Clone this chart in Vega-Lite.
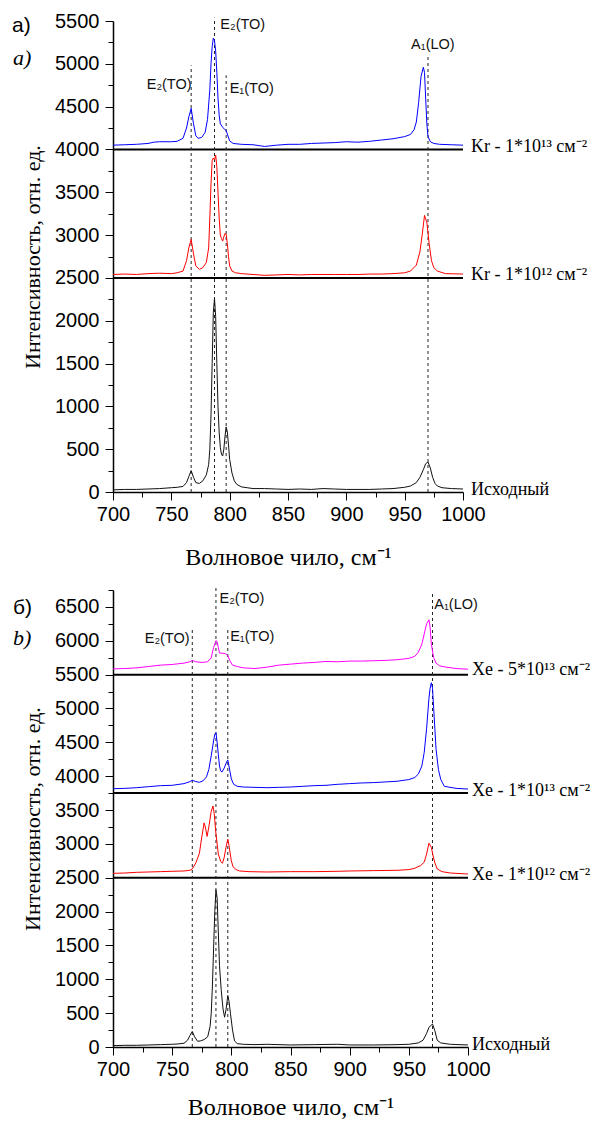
{
  "$schema": "https://vega.github.io/schema/vega-lite/v6.json",
  "padding": {"left": 12, "top": 11, "right": 0, "bottom": 0},
  "bounds": "flush",
  "spacing": 98,
  "config": {
    "view": {"stroke": null},
    "axis": {
      "grid": false,
      "domainColor": "#000",
      "domainWidth": 1.5,
      "tickColor": "#000",
      "tickWidth": 1,
      "labelColor": "#000",
      "labelFont": "Liberation Sans",
      "labelFontSize": 20,
      "labelOverlap": false,
      "labelFlush": false,
      "format": "d",
      "titleFont": "Liberation Serif",
      "titleFontSize": 22,
      "titleFontWeight": "normal",
      "titleColor": "#000"
    }
  },
  "resolve": {"scale": {"color": "independent"}},
  "datasets": {
    "a_spec": [
      {"x":700,"y":25,"s":"Исходный"},{"x":710,"y":30,"s":"Исходный"},{"x":720,"y":30,"s":"Исходный"},{"x":730,"y":35,"s":"Исходный"},{"x":740,"y":40,"s":"Исходный"},{"x":750,"y":50,"s":"Исходный"},{"x":755,"y":55,"s":"Исходный"},{"x":760,"y":65,"s":"Исходный"},{"x":763,"y":110,"s":"Исходный"},{"x":765,"y":180,"s":"Исходный"},{"x":767,"y":250,"s":"Исходный"},{"x":769,"y":170,"s":"Исходный"},{"x":771,"y":110,"s":"Исходный"},{"x":774,"y":100,"s":"Исходный"},{"x":777,"y":130,"s":"Исходный"},{"x":780,"y":200,"s":"Исходный"},{"x":782,"y":320,"s":"Исходный"},{"x":783,"y":500,"s":"Исходный"},{"x":784,"y":900,"s":"Исходный"},{"x":785,"y":1500,"s":"Исходный"},{"x":786,"y":2100,"s":"Исходный"},{"x":787,"y":2260,"s":"Исходный"},{"x":788,"y":2050,"s":"Исходный"},{"x":789,"y":1500,"s":"Исходный"},{"x":790,"y":1000,"s":"Исходный"},{"x":791,"y":700,"s":"Исходный"},{"x":792,"y":520,"s":"Исходный"},{"x":793,"y":440,"s":"Исходный"},{"x":794,"y":420,"s":"Исходный"},{"x":795,"y":500,"s":"Исходный"},{"x":796,"y":650,"s":"Исходный"},{"x":797,"y":760,"s":"Исходный"},{"x":798,"y":700,"s":"Исходный"},{"x":799,"y":550,"s":"Исходный"},{"x":800,"y":380,"s":"Исходный"},{"x":802,"y":220,"s":"Исходный"},{"x":804,"y":130,"s":"Исходный"},{"x":806,"y":90,"s":"Исходный"},{"x":810,"y":60,"s":"Исходный"},{"x":815,"y":50,"s":"Исходный"},{"x":820,"y":40,"s":"Исходный"},{"x":830,"y":40,"s":"Исходный"},{"x":840,"y":35,"s":"Исходный"},{"x":850,"y":30,"s":"Исходный"},{"x":860,"y":35,"s":"Исходный"},{"x":870,"y":30,"s":"Исходный"},{"x":880,"y":40,"s":"Исходный"},{"x":890,"y":35,"s":"Исходный"},{"x":900,"y":30,"s":"Исходный"},{"x":910,"y":30,"s":"Исходный"},{"x":920,"y":30,"s":"Исходный"},{"x":930,"y":35,"s":"Исходный"},{"x":940,"y":40,"s":"Исходный"},{"x":950,"y":55,"s":"Исходный"},{"x":955,"y":70,"s":"Исходный"},{"x":960,"y":110,"s":"Исходный"},{"x":963,"y":170,"s":"Исходный"},{"x":966,"y":260,"s":"Исходный"},{"x":968,"y":330,"s":"Исходный"},{"x":970,"y":350,"s":"Исходный"},{"x":972,"y":280,"s":"Исходный"},{"x":974,"y":170,"s":"Исходный"},{"x":976,"y":100,"s":"Исходный"},{"x":978,"y":70,"s":"Исходный"},{"x":982,"y":50,"s":"Исходный"},{"x":990,"y":40,"s":"Исходный"},{"x":1000,"y":35,"s":"Исходный"},

      {"x":700,"y":2540,"s":"Kr12"},{"x":710,"y":2545,"s":"Kr12"},{"x":720,"y":2540,"s":"Kr12"},{"x":730,"y":2550,"s":"Kr12"},{"x":740,"y":2555,"s":"Kr12"},{"x":750,"y":2550,"s":"Kr12"},{"x":755,"y":2560,"s":"Kr12"},{"x":760,"y":2580,"s":"Kr12"},{"x":763,"y":2700,"s":"Kr12"},{"x":765,"y":2850,"s":"Kr12"},{"x":767,"y":2950,"s":"Kr12"},{"x":769,"y":2780,"s":"Kr12"},{"x":771,"y":2640,"s":"Kr12"},{"x":774,"y":2600,"s":"Kr12"},{"x":777,"y":2620,"s":"Kr12"},{"x":780,"y":2680,"s":"Kr12"},{"x":782,"y":2850,"s":"Kr12"},{"x":783,"y":3200,"s":"Kr12"},{"x":784,"y":3600,"s":"Kr12"},{"x":785,"y":3870,"s":"Kr12"},{"x":786,"y":3900,"s":"Kr12"},{"x":787,"y":3880,"s":"Kr12"},{"x":788,"y":3935,"s":"Kr12"},{"x":789,"y":3800,"s":"Kr12"},{"x":790,"y":3500,"s":"Kr12"},{"x":791,"y":3200,"s":"Kr12"},{"x":792,"y":3000,"s":"Kr12"},{"x":793,"y":2960,"s":"Kr12"},{"x":794,"y":2930,"s":"Kr12"},{"x":795,"y":2980,"s":"Kr12"},{"x":796,"y":3020,"s":"Kr12"},{"x":797,"y":3010,"s":"Kr12"},{"x":798,"y":2900,"s":"Kr12"},{"x":799,"y":2750,"s":"Kr12"},{"x":800,"y":2640,"s":"Kr12"},{"x":802,"y":2580,"s":"Kr12"},{"x":805,"y":2560,"s":"Kr12"},{"x":810,"y":2550,"s":"Kr12"},{"x":820,"y":2540,"s":"Kr12"},{"x":830,"y":2530,"s":"Kr12"},{"x":840,"y":2535,"s":"Kr12"},{"x":850,"y":2540,"s":"Kr12"},{"x":860,"y":2535,"s":"Kr12"},{"x":870,"y":2540,"s":"Kr12"},{"x":880,"y":2540,"s":"Kr12"},{"x":890,"y":2540,"s":"Kr12"},{"x":900,"y":2540,"s":"Kr12"},{"x":910,"y":2540,"s":"Kr12"},{"x":920,"y":2545,"s":"Kr12"},{"x":930,"y":2545,"s":"Kr12"},{"x":940,"y":2550,"s":"Kr12"},{"x":950,"y":2560,"s":"Kr12"},{"x":955,"y":2580,"s":"Kr12"},{"x":960,"y":2650,"s":"Kr12"},{"x":963,"y":2800,"s":"Kr12"},{"x":965,"y":3000,"s":"Kr12"},{"x":967,"y":3230,"s":"Kr12"},{"x":969,"y":3150,"s":"Kr12"},{"x":971,"y":2900,"s":"Kr12"},{"x":973,"y":2700,"s":"Kr12"},{"x":975,"y":2620,"s":"Kr12"},{"x":978,"y":2580,"s":"Kr12"},{"x":985,"y":2550,"s":"Kr12"},{"x":1000,"y":2545,"s":"Kr12"},

      {"x":700,"y":4050,"s":"Kr13"},{"x":710,"y":4055,"s":"Kr13"},{"x":720,"y":4060,"s":"Kr13"},{"x":730,"y":4070,"s":"Kr13"},{"x":735,"y":4085,"s":"Kr13"},{"x":740,"y":4090,"s":"Kr13"},{"x":750,"y":4090,"s":"Kr13"},{"x":755,"y":4095,"s":"Kr13"},{"x":760,"y":4130,"s":"Kr13"},{"x":763,"y":4250,"s":"Kr13"},{"x":765,"y":4380,"s":"Kr13"},{"x":767,"y":4480,"s":"Kr13"},{"x":769,"y":4300,"s":"Kr13"},{"x":771,"y":4160,"s":"Kr13"},{"x":773,"y":4130,"s":"Kr13"},{"x":776,"y":4140,"s":"Kr13"},{"x":779,"y":4200,"s":"Kr13"},{"x":781,"y":4350,"s":"Kr13"},{"x":783,"y":4700,"s":"Kr13"},{"x":784,"y":5000,"s":"Kr13"},{"x":785,"y":5200,"s":"Kr13"},{"x":786,"y":5300,"s":"Kr13"},{"x":787,"y":5270,"s":"Kr13"},{"x":788,"y":5150,"s":"Kr13"},{"x":789,"y":4900,"s":"Kr13"},{"x":790,"y":4600,"s":"Kr13"},{"x":791,"y":4400,"s":"Kr13"},{"x":792,"y":4300,"s":"Kr13"},{"x":794,"y":4260,"s":"Kr13"},{"x":796,"y":4230,"s":"Kr13"},{"x":797,"y":4220,"s":"Kr13"},{"x":798,"y":4180,"s":"Kr13"},{"x":800,"y":4100,"s":"Kr13"},{"x":803,"y":4070,"s":"Kr13"},{"x":810,"y":4060,"s":"Kr13"},{"x":820,"y":4055,"s":"Kr13"},{"x":830,"y":4035,"s":"Kr13"},{"x":840,"y":4050,"s":"Kr13"},{"x":850,"y":4060,"s":"Kr13"},{"x":860,"y":4060,"s":"Kr13"},{"x":870,"y":4070,"s":"Kr13"},{"x":880,"y":4075,"s":"Kr13"},{"x":890,"y":4080,"s":"Kr13"},{"x":900,"y":4090,"s":"Kr13"},{"x":910,"y":4085,"s":"Kr13"},{"x":920,"y":4095,"s":"Kr13"},{"x":930,"y":4110,"s":"Kr13"},{"x":940,"y":4125,"s":"Kr13"},{"x":950,"y":4150,"s":"Kr13"},{"x":955,"y":4175,"s":"Kr13"},{"x":958,"y":4230,"s":"Kr13"},{"x":960,"y":4320,"s":"Kr13"},{"x":962,"y":4550,"s":"Kr13"},{"x":964,"y":4850,"s":"Kr13"},{"x":966,"y":4960,"s":"Kr13"},{"x":967,"y":4900,"s":"Kr13"},{"x":968,"y":4600,"s":"Kr13"},{"x":969,"y":4300,"s":"Kr13"},{"x":970,"y":4150,"s":"Kr13"},{"x":972,"y":4090,"s":"Kr13"},{"x":975,"y":4070,"s":"Kr13"},{"x":980,"y":4060,"s":"Kr13"},{"x":990,"y":4055,"s":"Kr13"},{"x":1000,"y":4050,"s":"Kr13"}
    ],
    "b_spec": [
      {"x":700,"y":20,"s":"Исходный"},{"x":710,"y":25,"s":"Исходный"},{"x":720,"y":25,"s":"Исходный"},{"x":730,"y":30,"s":"Исходный"},{"x":740,"y":35,"s":"Исходный"},{"x":750,"y":40,"s":"Исходный"},{"x":755,"y":45,"s":"Исходный"},{"x":760,"y":55,"s":"Исходный"},{"x":763,"y":100,"s":"Исходный"},{"x":765,"y":170,"s":"Исходный"},{"x":767,"y":230,"s":"Исходный"},{"x":769,"y":150,"s":"Исходный"},{"x":771.5,"y":85,"s":"Исходный"},{"x":774,"y":90,"s":"Исходный"},{"x":777,"y":110,"s":"Исходный"},{"x":780,"y":150,"s":"Исходный"},{"x":782,"y":300,"s":"Исходный"},{"x":783,"y":490,"s":"Исходный"},{"x":784,"y":900,"s":"Исходный"},{"x":785,"y":1450,"s":"Исходный"},{"x":786,"y":2000,"s":"Исходный"},{"x":787,"y":2320,"s":"Исходный"},{"x":788,"y":2200,"s":"Исходный"},{"x":789,"y":1700,"s":"Исходный"},{"x":790,"y":1200,"s":"Исходный"},{"x":791.5,"y":830,"s":"Исходный"},{"x":793,"y":560,"s":"Исходный"},{"x":794.3,"y":440,"s":"Исходный"},{"x":795.5,"y":550,"s":"Исходный"},{"x":797,"y":760,"s":"Исходный"},{"x":798,"y":680,"s":"Исходный"},{"x":799.3,"y":490,"s":"Исходный"},{"x":801,"y":250,"s":"Исходный"},{"x":802.7,"y":90,"s":"Исходный"},{"x":805,"y":50,"s":"Исходный"},{"x":810,"y":40,"s":"Исходный"},{"x":820,"y":35,"s":"Исходный"},{"x":830,"y":40,"s":"Исходный"},{"x":850,"y":30,"s":"Исходный"},{"x":870,"y":35,"s":"Исходный"},{"x":890,"y":40,"s":"Исходный"},{"x":900,"y":30,"s":"Исходный"},{"x":920,"y":30,"s":"Исходный"},{"x":940,"y":35,"s":"Исходный"},{"x":950,"y":40,"s":"Исходный"},{"x":958,"y":60,"s":"Исходный"},{"x":962,"y":100,"s":"Исходный"},{"x":965,"y":200,"s":"Исходный"},{"x":967,"y":290,"s":"Исходный"},{"x":970,"y":340,"s":"Исходный"},{"x":972,"y":240,"s":"Исходный"},{"x":974,"y":100,"s":"Исходный"},{"x":977,"y":60,"s":"Исходный"},{"x":985,"y":40,"s":"Исходный"},{"x":1000,"y":30,"s":"Исходный"},

      {"x":700,"y":2565,"s":"Xe12"},{"x":710,"y":2570,"s":"Xe12"},{"x":720,"y":2580,"s":"Xe12"},{"x":730,"y":2585,"s":"Xe12"},{"x":740,"y":2590,"s":"Xe12"},{"x":750,"y":2595,"s":"Xe12"},{"x":760,"y":2600,"s":"Xe12"},{"x":765,"y":2610,"s":"Xe12"},{"x":767,"y":2630,"s":"Xe12"},{"x":770,"y":2720,"s":"Xe12"},{"x":773,"y":2860,"s":"Xe12"},{"x":775,"y":3100,"s":"Xe12"},{"x":777,"y":3310,"s":"Xe12"},{"x":778,"y":3250,"s":"Xe12"},{"x":779.5,"y":3110,"s":"Xe12"},{"x":781,"y":3250,"s":"Xe12"},{"x":783,"y":3480,"s":"Xe12"},{"x":784.5,"y":3560,"s":"Xe12"},{"x":785.5,"y":3450,"s":"Xe12"},{"x":787,"y":3150,"s":"Xe12"},{"x":789,"y":2850,"s":"Xe12"},{"x":791,"y":2740,"s":"Xe12"},{"x":792.5,"y":2715,"s":"Xe12"},{"x":794,"y":2800,"s":"Xe12"},{"x":795.5,"y":2950,"s":"Xe12"},{"x":797,"y":3070,"s":"Xe12"},{"x":798,"y":2980,"s":"Xe12"},{"x":800,"y":2750,"s":"Xe12"},{"x":801.5,"y":2660,"s":"Xe12"},{"x":804,"y":2620,"s":"Xe12"},{"x":807,"y":2600,"s":"Xe12"},{"x":815,"y":2590,"s":"Xe12"},{"x":830,"y":2585,"s":"Xe12"},{"x":850,"y":2590,"s":"Xe12"},{"x":870,"y":2590,"s":"Xe12"},{"x":890,"y":2595,"s":"Xe12"},{"x":900,"y":2600,"s":"Xe12"},{"x":920,"y":2605,"s":"Xe12"},{"x":940,"y":2610,"s":"Xe12"},{"x":950,"y":2620,"s":"Xe12"},{"x":955,"y":2640,"s":"Xe12"},{"x":960,"y":2680,"s":"Xe12"},{"x":963,"y":2730,"s":"Xe12"},{"x":965,"y":2850,"s":"Xe12"},{"x":967,"y":3010,"s":"Xe12"},{"x":969,"y":2950,"s":"Xe12"},{"x":970.5,"y":2820,"s":"Xe12"},{"x":972,"y":2720,"s":"Xe12"},{"x":974,"y":2630,"s":"Xe12"},{"x":978,"y":2590,"s":"Xe12"},{"x":985,"y":2570,"s":"Xe12"},{"x":1000,"y":2555,"s":"Xe12"},

      {"x":700,"y":3815,"s":"Xe13"},{"x":710,"y":3820,"s":"Xe13"},{"x":720,"y":3830,"s":"Xe13"},{"x":730,"y":3845,"s":"Xe13"},{"x":740,"y":3860,"s":"Xe13"},{"x":750,"y":3865,"s":"Xe13"},{"x":760,"y":3890,"s":"Xe13"},{"x":765,"y":3920,"s":"Xe13"},{"x":767,"y":3940,"s":"Xe13"},{"x":770,"y":3920,"s":"Xe13"},{"x":773,"y":3910,"s":"Xe13"},{"x":776,"y":3930,"s":"Xe13"},{"x":779,"y":3990,"s":"Xe13"},{"x":781,"y":4100,"s":"Xe13"},{"x":783,"y":4300,"s":"Xe13"},{"x":785,"y":4520,"s":"Xe13"},{"x":786,"y":4620,"s":"Xe13"},{"x":787,"y":4640,"s":"Xe13"},{"x":788,"y":4500,"s":"Xe13"},{"x":789,"y":4320,"s":"Xe13"},{"x":790,"y":4150,"s":"Xe13"},{"x":791,"y":4080,"s":"Xe13"},{"x":792,"y":4060,"s":"Xe13"},{"x":794,"y":4120,"s":"Xe13"},{"x":796,"y":4210,"s":"Xe13"},{"x":797,"y":4240,"s":"Xe13"},{"x":798,"y":4150,"s":"Xe13"},{"x":800,"y":3960,"s":"Xe13"},{"x":802,"y":3880,"s":"Xe13"},{"x":805,"y":3850,"s":"Xe13"},{"x":810,"y":3840,"s":"Xe13"},{"x":820,"y":3835,"s":"Xe13"},{"x":830,"y":3830,"s":"Xe13"},{"x":840,"y":3835,"s":"Xe13"},{"x":850,"y":3840,"s":"Xe13"},{"x":860,"y":3850,"s":"Xe13"},{"x":870,"y":3860,"s":"Xe13"},{"x":880,"y":3865,"s":"Xe13"},{"x":890,"y":3880,"s":"Xe13"},{"x":900,"y":3890,"s":"Xe13"},{"x":910,"y":3900,"s":"Xe13"},{"x":920,"y":3905,"s":"Xe13"},{"x":930,"y":3915,"s":"Xe13"},{"x":940,"y":3925,"s":"Xe13"},{"x":950,"y":3950,"s":"Xe13"},{"x":955,"y":3980,"s":"Xe13"},{"x":958,"y":4030,"s":"Xe13"},{"x":961,"y":4150,"s":"Xe13"},{"x":963,"y":4350,"s":"Xe13"},{"x":965,"y":4700,"s":"Xe13"},{"x":967,"y":5150,"s":"Xe13"},{"x":968,"y":5300,"s":"Xe13"},{"x":969,"y":5380,"s":"Xe13"},{"x":970,"y":5300,"s":"Xe13"},{"x":971,"y":5000,"s":"Xe13"},{"x":972,"y":4700,"s":"Xe13"},{"x":973,"y":4400,"s":"Xe13"},{"x":975,"y":4100,"s":"Xe13"},{"x":977,"y":3950,"s":"Xe13"},{"x":980,"y":3850,"s":"Xe13"},{"x":990,"y":3820,"s":"Xe13"},{"x":1000,"y":3810,"s":"Xe13"},

      {"x":700,"y":5585,"s":"Xe5"},{"x":710,"y":5590,"s":"Xe5"},{"x":720,"y":5600,"s":"Xe5"},{"x":730,"y":5620,"s":"Xe5"},{"x":740,"y":5640,"s":"Xe5"},{"x":750,"y":5650,"s":"Xe5"},{"x":760,"y":5670,"s":"Xe5"},{"x":765,"y":5690,"s":"Xe5"},{"x":767,"y":5710,"s":"Xe5"},{"x":770,"y":5690,"s":"Xe5"},{"x":775,"y":5680,"s":"Xe5"},{"x":780,"y":5690,"s":"Xe5"},{"x":783,"y":5750,"s":"Xe5"},{"x":785,"y":5900,"s":"Xe5"},{"x":787,"y":6000,"s":"Xe5"},{"x":788,"y":5990,"s":"Xe5"},{"x":789,"y":5900,"s":"Xe5"},{"x":790,"y":5820,"s":"Xe5"},{"x":793,"y":5815,"s":"Xe5"},{"x":795,"y":5810,"s":"Xe5"},{"x":797,"y":5780,"s":"Xe5"},{"x":799,"y":5700,"s":"Xe5"},{"x":801,"y":5640,"s":"Xe5"},{"x":805,"y":5620,"s":"Xe5"},{"x":810,"y":5600,"s":"Xe5"},{"x":820,"y":5590,"s":"Xe5"},{"x":830,"y":5610,"s":"Xe5"},{"x":840,"y":5640,"s":"Xe5"},{"x":850,"y":5655,"s":"Xe5"},{"x":860,"y":5670,"s":"Xe5"},{"x":870,"y":5680,"s":"Xe5"},{"x":880,"y":5695,"s":"Xe5"},{"x":890,"y":5690,"s":"Xe5"},{"x":900,"y":5700,"s":"Xe5"},{"x":910,"y":5700,"s":"Xe5"},{"x":920,"y":5705,"s":"Xe5"},{"x":930,"y":5710,"s":"Xe5"},{"x":940,"y":5720,"s":"Xe5"},{"x":950,"y":5740,"s":"Xe5"},{"x":955,"y":5770,"s":"Xe5"},{"x":958,"y":5830,"s":"Xe5"},{"x":961,"y":5950,"s":"Xe5"},{"x":963,"y":6100,"s":"Xe5"},{"x":965,"y":6250,"s":"Xe5"},{"x":967,"y":6310,"s":"Xe5"},{"x":968,"y":6200,"s":"Xe5"},{"x":969,"y":5950,"s":"Xe5"},{"x":971,"y":5750,"s":"Xe5"},{"x":973,"y":5670,"s":"Xe5"},{"x":976,"y":5630,"s":"Xe5"},{"x":980,"y":5615,"s":"Xe5"},{"x":990,"y":5590,"s":"Xe5"},{"x":1000,"y":5580,"s":"Xe5"}
    ],
    "a_base": [{"y":4000,"x1":700,"x2":1000},{"y":2500,"x1":700,"x2":1000}],
    "b_base": [{"y":5500,"x1":700,"x2":1000},{"y":3750,"x1":700,"x2":1000},{"y":2500,"x1":700,"x2":1000}],
    "a_dash": [{"x":767,"y1":0,"y2":4982},{"x":787,"y1":0,"y2":5539},{"x":797,"y1":0,"y2":4866},{"x":970,"y1":0,"y2":5088}],
    "b_dash": [{"x":767,"y1":0,"y2":6160},{"x":787,"y1":0,"y2":6799},{"x":797,"y1":0,"y2":6160},{"x":970,"y1":0,"y2":6725}],
    "a_peak": [
      {"x":728.9,"y":4749,"t":"E₂(TO)"},
      {"x":792,"y":5449,"t":"E₂(TO)"},
      {"x":800,"y":4702,"t":"E₁(TO)"},
      {"x":955.5,"y":5222,"t":"A₁(LO)"}
    ],
    "b_peak": [
      {"x":726.8,"y":6027,"t":"E₂(TO)"},
      {"x":790,"y":6617,"t":"E₂(TO)"},
      {"x":799,"y":6049,"t":"E₁(TO)"},
      {"x":971.5,"y":6524,"t":"A₁(LO)"}
    ],
    "a_lab": [
      {"x":1000,"y":4030,"t":"Kr - 1*10¹³ см⁻²"},
      {"x":1000,"y":2530,"t":"Kr - 1*10¹² см⁻²"},
      {"x":1000,"y":20,"t":"Исходный"}
    ],
    "b_lab": [
      {"x":1000,"y":5569,"t":"Xe - 5*10¹³ см⁻²"},
      {"x":1000,"y":3786,"t":"Xe - 1*10¹³ см⁻²"},
      {"x":1000,"y":2541,"t":"Xe - 1*10¹² см⁻²"},
      {"x":1000,"y":30,"t":"Исходный"}
    ],
    "a_letter": [{"x":613.5,"y":5438,"t":"а)"}],
    "a_letter_i": [{"x":614.3,"y":5064,"t":"a)"}],
    "b_letter": [{"x":615.4,"y":6484,"t":"б)"}],
    "b_letter_i": [{"x":615.4,"y":6034,"t":"b)"}]
  },
  "vconcat": [
    {
      "width": 350,
      "height": 471,
      "resolve": {"axis": {"x": "independent", "y": "independent"}},
      "layer": [
        {
          "data": {"name": "a_base"},
          "mark": {"type": "rule", "color": "#000", "strokeWidth": 2},
          "encoding": {
            "x": {"field": "x1", "type": "quantitative", "scale": {"domain": [700, 1000], "nice": false, "zero": false},
                  "axis": {"orient": "bottom", "values": [725, 775, 825, 875, 925, 975], "labels": false, "domain": false, "tickSize": 5, "title": null}},
            "x2": {"field": "x2"},
            "y": {"field": "y", "type": "quantitative", "scale": {"domain": [0, 5500], "nice": false, "zero": false},
                  "axis": {"orient": "left", "values": [250, 750, 1250, 1750, 2250, 2750, 3250, 3750, 4250, 4750, 5250], "labels": false, "domain": false, "tickSize": 5, "title": null}}
          }
        },
        {
          "data": {"name": "a_dash"},
          "mark": {"type": "rule", "color": "#222", "strokeWidth": 1, "strokeDash": [3, 3]},
          "encoding": {
            "x": {"field": "x", "type": "quantitative", "scale": {"domain": [700, 1000], "nice": false, "zero": false}, "axis": null},
            "y": {"field": "y1", "type": "quantitative", "scale": {"domain": [0, 5500], "nice": false, "zero": false}, "axis": null},
            "y2": {"field": "y2"}
          }
        },
        {
          "data": {"name": "a_spec"},
          "mark": {"type": "line", "strokeWidth": 1},
          "encoding": {
            "x": {"field": "x", "type": "quantitative", "scale": {"domain": [700, 1000], "nice": false, "zero": false},
                  "axis": {"orient": "bottom", "values": [700, 750, 800, 850, 900, 950, 1000], "tickSize": 8, "labelPadding": 4, "title": "Волновое чило, см⁻¹", "titleFontSize": 24, "titlePadding": 21}},
            "y": {"field": "y", "type": "quantitative", "scale": {"domain": [0, 5500], "nice": false, "zero": false},
                  "axis": {"orient": "left", "values": [0, 500, 1000, 1500, 2000, 2500, 3000, 3500, 4000, 4500, 5000, 5500], "tickSize": 8, "labelPadding": 6, "title": "Интенсивность, отн. ед.", "titlePadding": 10}},
            "color": {"field": "s", "type": "nominal", "scale": {"domain": ["Исходный", "Kr12", "Kr13"], "range": ["#111111", "#ff0000", "#0000ff"]}, "legend": null}
          }
        },
        {
          "data": {"name": "a_peak"},
          "mark": {"type": "text", "font": "Liberation Sans", "fontSize": 14.5, "color": "#111", "align": "left", "baseline": "middle"},
          "encoding": {
            "x": {"field": "x", "type": "quantitative", "scale": {"domain": [700, 1000], "nice": false, "zero": false}, "axis": null},
            "y": {"field": "y", "type": "quantitative", "scale": {"domain": [0, 5500], "nice": false, "zero": false}, "axis": null},
            "text": {"field": "t"}
          }
        },
        {
          "data": {"name": "a_lab"},
          "mark": {"type": "text", "font": "Liberation Serif", "fontSize": 18, "color": "#000", "align": "left", "baseline": "middle", "dx": 8},
          "encoding": {
            "x": {"field": "x", "type": "quantitative", "scale": {"domain": [700, 1000], "nice": false, "zero": false}, "axis": null},
            "y": {"field": "y", "type": "quantitative", "scale": {"domain": [0, 5500], "nice": false, "zero": false}, "axis": null},
            "text": {"field": "t"}
          }
        },
        {
          "data": {"name": "a_letter"},
          "mark": {"type": "text", "font": "Liberation Sans", "fontSize": 21, "color": "#000", "align": "left", "baseline": "middle"},
          "encoding": {
            "x": {"field": "x", "type": "quantitative", "scale": {"domain": [700, 1000], "nice": false, "zero": false}, "axis": null},
            "y": {"field": "y", "type": "quantitative", "scale": {"domain": [0, 5500], "nice": false, "zero": false}, "axis": null},
            "text": {"field": "t"}
          }
        },
        {
          "data": {"name": "a_letter_i"},
          "mark": {"type": "text", "font": "Liberation Serif", "fontSize": 22, "fontStyle": "italic", "color": "#000", "align": "left", "baseline": "middle"},
          "encoding": {
            "x": {"field": "x", "type": "quantitative", "scale": {"domain": [700, 1000], "nice": false, "zero": false}, "axis": null},
            "y": {"field": "y", "type": "quantitative", "scale": {"domain": [0, 5500], "nice": false, "zero": false}, "axis": null},
            "text": {"field": "t"}
          }
        }
      ]
    },
    {
      "width": 355,
      "height": 457,
      "resolve": {"axis": {"x": "independent", "y": "independent"}},
      "layer": [
        {
          "data": {"name": "b_base"},
          "mark": {"type": "rule", "color": "#000", "strokeWidth": 2},
          "encoding": {
            "x": {"field": "x1", "type": "quantitative", "scale": {"domain": [700, 1000], "nice": false, "zero": false},
                  "axis": {"orient": "bottom", "values": [725, 775, 825, 875, 925, 975], "labels": false, "domain": false, "tickSize": 5, "title": null}},
            "x2": {"field": "x2"},
            "y": {"field": "y", "type": "quantitative", "scale": {"domain": [0, 6750], "nice": false, "zero": false},
                  "axis": {"orient": "left", "values": [250, 750, 1250, 1750, 2250, 2750, 3250, 3750, 4250, 4750, 5250, 5750, 6250, 6750], "labels": false, "domain": false, "tickSize": 5, "title": null}}
          }
        },
        {
          "data": {"name": "b_dash"},
          "mark": {"type": "rule", "color": "#222", "strokeWidth": 1, "strokeDash": [3, 3]},
          "encoding": {
            "x": {"field": "x", "type": "quantitative", "scale": {"domain": [700, 1000], "nice": false, "zero": false}, "axis": null},
            "y": {"field": "y1", "type": "quantitative", "scale": {"domain": [0, 6750], "nice": false, "zero": false}, "axis": null},
            "y2": {"field": "y2"}
          }
        },
        {
          "data": {"name": "b_spec"},
          "mark": {"type": "line", "strokeWidth": 1},
          "encoding": {
            "x": {"field": "x", "type": "quantitative", "scale": {"domain": [700, 1000], "nice": false, "zero": false},
                  "axis": {"orient": "bottom", "values": [700, 750, 800, 850, 900, 950, 1000], "tickSize": 8, "labelPadding": 4, "title": "Волновое чило, см⁻¹", "titleFontSize": 24, "titlePadding": 16}},
            "y": {"field": "y", "type": "quantitative", "scale": {"domain": [0, 6750], "nice": false, "zero": false},
                  "axis": {"orient": "left", "values": [0, 500, 1000, 1500, 2000, 2500, 3000, 3500, 4000, 4500, 5000, 5500, 6000, 6500], "tickSize": 8, "labelPadding": 6, "title": "Интенсивность, отн. ед.", "titlePadding": 10}},
            "color": {"field": "s", "type": "nominal", "scale": {"domain": ["Исходный", "Xe12", "Xe13", "Xe5"], "range": ["#111111", "#ff0000", "#0000ff", "#ff00ff"]}, "legend": null}
          }
        },
        {
          "data": {"name": "b_peak"},
          "mark": {"type": "text", "font": "Liberation Sans", "fontSize": 14.5, "color": "#111", "align": "left", "baseline": "middle"},
          "encoding": {
            "x": {"field": "x", "type": "quantitative", "scale": {"domain": [700, 1000], "nice": false, "zero": false}, "axis": null},
            "y": {"field": "y", "type": "quantitative", "scale": {"domain": [0, 6750], "nice": false, "zero": false}, "axis": null},
            "text": {"field": "t"}
          }
        },
        {
          "data": {"name": "b_lab"},
          "mark": {"type": "text", "font": "Liberation Serif", "fontSize": 18, "color": "#000", "align": "left", "baseline": "middle", "dx": 4},
          "encoding": {
            "x": {"field": "x", "type": "quantitative", "scale": {"domain": [700, 1000], "nice": false, "zero": false}, "axis": null},
            "y": {"field": "y", "type": "quantitative", "scale": {"domain": [0, 6750], "nice": false, "zero": false}, "axis": null},
            "text": {"field": "t"}
          }
        },
        {
          "data": {"name": "b_letter"},
          "mark": {"type": "text", "font": "Liberation Sans", "fontSize": 21, "color": "#000", "align": "left", "baseline": "middle"},
          "encoding": {
            "x": {"field": "x", "type": "quantitative", "scale": {"domain": [700, 1000], "nice": false, "zero": false}, "axis": null},
            "y": {"field": "y", "type": "quantitative", "scale": {"domain": [0, 6750], "nice": false, "zero": false}, "axis": null},
            "text": {"field": "t"}
          }
        },
        {
          "data": {"name": "b_letter_i"},
          "mark": {"type": "text", "font": "Liberation Serif", "fontSize": 22, "fontStyle": "italic", "color": "#000", "align": "left", "baseline": "middle"},
          "encoding": {
            "x": {"field": "x", "type": "quantitative", "scale": {"domain": [700, 1000], "nice": false, "zero": false}, "axis": null},
            "y": {"field": "y", "type": "quantitative", "scale": {"domain": [0, 6750], "nice": false, "zero": false}, "axis": null},
            "text": {"field": "t"}
          }
        }
      ]
    }
  ]
}
